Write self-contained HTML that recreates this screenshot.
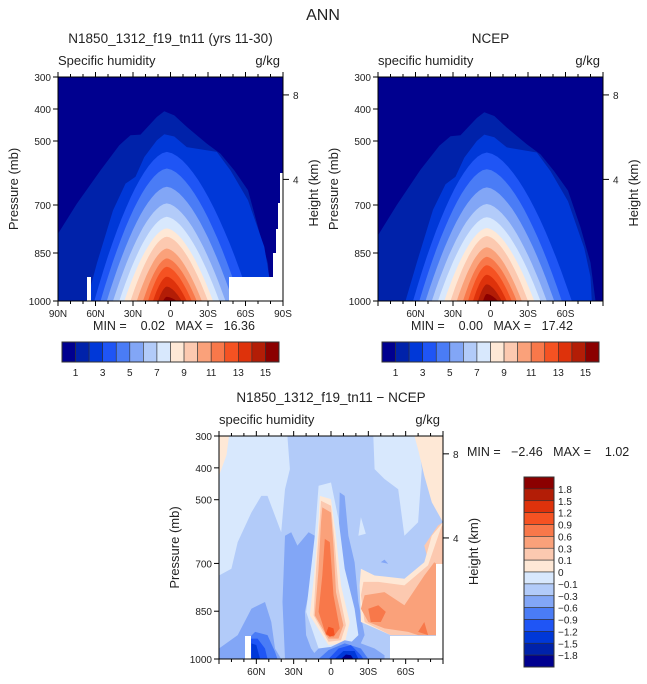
<!DOCTYPE html>
<html><head><meta charset="utf-8"><style>
body{margin:0;background:#fff}
svg{display:block;font-family:"Liberation Sans",sans-serif}
text{white-space:pre}
</style></head><body>
<svg id="root" width="647" height="684" viewBox="0 0 647 684" xmlns="http://www.w3.org/2000/svg">
<text x="323" y="20" font-size="16" text-anchor="middle" fill="#222">ANN</text>
</svg>
<script>
// ---- data ----
const palette = ["#00008f","#0022aa","#0038d8","#1f55f5","#4a7cf6","#82a6f6","#b2cbf9","#d8e8fd","#fee8d6","#fcc9b0","#faa17a","#f8784a","#f55222","#de320b","#b31d06","#8b0000"];
const cbLabels1 = ["1","3","5","7","9","11","13","15"];
const cbLabels3 = ["1.8","1.5","1.2","0.9","0.6","0.3","0.1","0","\u22120.1","\u22120.3","\u22120.6","\u22120.9","\u22121.2","\u22121.5","\u22121.8"];
const pTicks = [300,400,500,700,850,1000];
const latTicks1 = [-90,-60,-30,0,30,60,90];
const latLabels1 = ["90N","60N","30N","0","30S","60S","90S"];
const latTicks2 = [-60,-30,0,30,60];
const latLabels2 = ["60N","30N","0","30S","60S"];
const heightTicks = [8,4];
const heightTickP = [356,620];
// panel 1 contours
const p1Lev1 = [[-90,790],[-75,696],[-56,592],[-41,513],[-32,482],[-24,480],[-11,425],[-5,407],[3,420],[13,456],[29,508],[40,540],[51,592],[62,654],[70,769],[78,883],[80,1000],[-90,1000]];
const p1Lev2 = [[-67,1000],[-59,883],[-46,717],[-36,633],[-28,612],[-21,550],[-11,498],[-5,479],[3,486],[13,519],[37,534],[48,592],[62,685],[75,831],[79,925],[79,1000]];
const p1Peak = [534,586,643,695,737,773,799,836,867,893,924,955,987];
const p1Left = [-61,-56,-51,-46,-41,-37,-32,-27,-22,-18,-14,-10,-6];
const p1Right = [64,56,50,44,39,34,30,25,21,17,13,9,5];
// panel 2 contours
const p2Lev1 = [[-90,795],[-75,700],[-56,590],[-41,515],[-32,485],[-24,482],[-11,428],[-5,410],[3,422],[13,458],[29,510],[40,542],[51,595],[62,655],[72,770],[80,880],[84,1000],[-90,1000]];
const p2Lev2 = [[-68,1000],[-59,880],[-46,715],[-36,635],[-28,612],[-21,552],[-11,500],[-5,480],[3,488],[13,520],[37,536],[48,594],[62,688],[75,835],[80,925],[81,1000]];
const p2Peak = [536,588,645,697,738,772,797,832,862,888,918,948,978];
const p2Left = [-62,-57,-52,-47,-42,-37,-32,-27,-22,-18,-14,-10,-6];
const p2Right = [65,57,51,45,40,35,30,25,21,17,13,9,6];
// panel 3 difference regions: [colorIndex, polygon of [lat,p]]
const diffRegions = [
 [7, [[-90,300],[-35,300],[-33,404],[-37,467],[-40,602],[-51,488],[-56,488],[-64,540],[-75,633],[-80,717],[-90,738]]],
 [7, [[34,300],[70,300],[73,404],[70,571],[59,613],[54,467],[43,435],[35,404]]],
 [8, [[-90,300],[-82,300],[-84,360],[-90,425]]],
 [8, [[67,300],[90,300],[90,571],[81,508],[75,425],[70,342]]],
 [9, [[75,644],[86,581],[90,571],[90,696],[81,738]]],
 [5, [[-37,613],[-32,602],[-27,644],[-18,602],[-13,613],[-14,717],[-21,852],[-20,925],[-16,967],[-10,1000],[-37,1000],[-39,821]]],
 [5, [[7,477],[11,488],[14,613],[19,696],[22,821],[27,925],[22,967],[11,956],[8,821],[6,644]]],
 [5, [[-90,967],[-75,925],[-64,842],[-53,821],[-48,884],[-45,967],[-40,1000],[-90,1000]]],
 [7, [[-10,456],[0,446],[6,561],[11,717],[19,842],[22,925],[11,967],[-10,967],[-20,852],[-13,613]]],
 [8, [[-9,488],[0,498],[4,613],[8,769],[15,884],[11,951],[-2,956],[-17,863],[-13,717],[-10,561]]],
 [9, [[-8,503],[0,519],[3,633],[6,779],[12,894],[8,941],[-2,946],[-14,863],[-12,717],[-9,561]]],
 [10, [[-7,524],[0,540],[2,644],[4,790],[10,894],[6,936],[-2,936],[-13,863],[-10,717],[-8,571]]],
 [11, [[-5,623],[-1,633],[2,800],[7,904],[2,930],[-4,925],[-10,852],[-7,738]]],
 [12, [[-2,899],[2,904],[3,925],[-1,930],[-4,920]]],
 [8, [[24,717],[35,738],[59,748],[75,696],[81,613],[90,571],[90,925],[48,925],[24,884],[23,769]]],
 [9, [[26,758],[38,758],[59,769],[78,706],[89,581],[90,581],[90,925],[48,925],[27,884],[24,800]]],
 [10, [[27,800],[43,790],[59,831],[75,738],[83,696],[86,706],[86,925],[70,925],[62,915],[43,904],[30,884],[24,842]]],
 [11, [[30,842],[38,831],[44,852],[40,884],[32,884]]],
 [11, [[70,915],[75,884],[78,925]]],
 [7, [[22,613],[24,555],[28,607]]],
 [5, [[40,696],[43,688],[46,701]]],
 [4, [[-69,946],[-61,915],[-51,925],[-45,977],[-43,1000],[-69,1000]]],
 [3, [[-65,936],[-59,936],[-53,967],[-51,1000],[-65,1000]]],
 [2, [[-64,951],[-60,956],[-57,1000],[-64,1000]]],
 [5, [[-18,1000],[-10,967],[0,962],[11,941],[24,951],[35,967],[43,988],[43,1000]]],
 [4, [[-10,1000],[-2,972],[11,951],[24,967],[30,1000]]],
 [3, [[-2,1000],[6,967],[16,956],[24,988],[26,1000]]],
 [2, [[3,1000],[10,975],[19,975],[22,1000]]],
 [0, [[8,1000],[12,986],[16,988],[18,1000]]]
];

const NS = "http://www.w3.org/2000/svg";
const root = document.getElementById("root");
function mk(tag, attrs, parent){const e=document.createElementNS(NS,tag);for(const k in attrs)e.setAttribute(k,attrs[k]);(parent||root).appendChild(e);return e;}
function txt(x,y,s,size,anchor,parent){const t=mk("text",{x:x,y:y,"font-size":size,"text-anchor":anchor||"start",fill:"#222"},parent);t.textContent=s;return t;}

function makePanel(cfg){
  const g=mk("g",{});
  
  
  const X=lat=>cfg.x0+(lat+90)*(cfg.w/180);
  const Y=p=>cfg.y0+(p-300)/700*cfg.h;
  const clipId=cfg.name+"-clip";
  const cp=mk("clipPath",{id:clipId},g);mk("rect",{x:cfg.x0,y:cfg.y0,width:cfg.w,height:cfg.h},cp);
  const plot=mk("g",{"clip-path":"url(#"+clipId+")"},g);
  
  
  const bg=mk("rect",{x:cfg.x0,y:cfg.y0,width:cfg.w,height:cfg.h,fill:cfg.bg},plot);
  
  
  return {g,plot,X,Y};
}
function poly(parent,pts,X,Y,color,name){
  const e=mk("polygon",{points:pts.map(q=>X(q[0]).toFixed(1)+","+Y(q[1]).toFixed(1)).join(" "),fill:color},parent);
  
  
}
function mountain(parent,X,Y,peak,left,right,color,name){
  const c=-3,pts=[];
  const wl=c-left,wr=right-c;
  for(let i=0;i<=16;i++){const t=1-i/16;const lat=c-wl*t;pts.push([lat,peak+(1000-peak)*Math.pow(t,1.7)]);}
  for(let i=1;i<=16;i++){const t=i/16;const lat=c+wr*t;pts.push([lat,peak+(1000-peak)*Math.pow(t,1.7)]);}
  poly(parent,pts,X,Y,color,name);
}
function axes(P,cfg,latTicks,latLabels,title,sub){
  const g=P.g,X=P.X,Y=P.Y;
  const fr=mk("rect",{x:cfg.x0,y:cfg.y0,width:cfg.w,height:cfg.h,fill:"none",stroke:"#000","stroke-width":1},g);
  
  
  pTicks.forEach(p=>{
    mk("line",{x1:cfg.x0-5,x2:cfg.x0,y1:Y(p),y2:Y(p),stroke:"#000"},g);
    const t=txt(cfg.x0-7,Y(p)+4,String(p),10,"end",g);
    
    
  });
  for(let l=-90;l<=90;l+=10){
    const major=l%30===0, len=major?5:3;
    mk("line",{x1:X(l),x2:X(l),y1:cfg.y0+cfg.h,y2:cfg.y0+cfg.h+len,stroke:"#000"},g);
    mk("line",{x1:X(l),x2:X(l),y1:cfg.y0,y2:cfg.y0-len,stroke:"#000"},g);
  }
  latTicks.forEach((l,i)=>{
    const t=txt(X(l),cfg.y0+cfg.h+16,latLabels[i],10,"middle",g);
    
    
  });
  heightTicks.forEach((h,i)=>{
    const y=Y(heightTickP[i]);
    mk("line",{x1:cfg.x0+cfg.w,x2:cfg.x0+cfg.w+6,y1:y,y2:y,stroke:"#000"},g);
    const t=txt(cfg.x0+cfg.w+10,y+4,String(h),10,"start",g);
    
    
  });
  const yl=txt(0,0,"Pressure (mb)",13,"middle",g);
  yl.setAttribute("transform","translate("+(cfg.x0-40)+","+(cfg.y0+cfg.h/2)+") rotate(-90)");
  
  
  const hl=txt(0,0,"Height (km)",13,"middle",g);
  hl.setAttribute("transform","translate("+(cfg.x0+cfg.w+35)+","+(cfg.y0+cfg.h/2+4)+") rotate(-90)");
  
  
  const tt=txt(cfg.x0+cfg.w/2,cfg.y0-34,title,13.5,"middle",g);
  
  
  const st=txt(cfg.x0,cfg.y0-12,sub,13,"start",g);
  
  
  const ut=txt(cfg.x0+cfg.w-3,cfg.y0-12,"g/kg",13,"end",g);
  
  
}
function humidityPanel(cfg,lev1,lev2,peak,left,right){
  const P=makePanel(cfg);
  poly(P.plot,lev1,P.X,P.Y,palette[1],"contour-level-1");
  poly(P.plot,lev2,P.X,P.Y,palette[2],"contour-level-2");
  peak.forEach((pk,i)=>mountain(P.plot,P.X,P.Y,pk,left[i],right[i],palette[i+3],"contour-level-"+(i+3)));
  return P;
}
function hColorbar(x0,y0,w,h,name){
  const g=mk("g",{});
  
  
  const bw=w/palette.length;
  palette.forEach((c,i)=>{
    const r=mk("rect",{x:x0+i*bw,y:y0,width:bw,height:h,fill:c,stroke:"#333","stroke-width":0.6},g);
    
    
  });
  mk("rect",{x:x0,y:y0,width:w,height:h,fill:"none",stroke:"#333"},g);
  cbLabels1.forEach((s,i)=>{
    const t=txt(x0+bw*(1+2*i),y0+h+14,s,10,"middle",g);
    
    
  });
}
function whiteRect(parent,x,y,w,h){
  const r=mk("rect",{x:x,y:y,width:w,height:h,fill:"#fff"},parent);
  
  
}

// Panel 1
const c1={name:"model-panel",x0:58,y0:77,w:225,h:224,bg:palette[0]};
const P1=humidityPanel(c1,p1Lev1,p1Lev2,p1Peak,p1Left,p1Right);
whiteRect(P1.plot,87,277,4,24);
whiteRect(P1.plot,229,277,54,24);
whiteRect(P1.plot,273,253,10,24);
whiteRect(P1.plot,276,229,7,24);
whiteRect(P1.plot,278,203,5,26);
whiteRect(P1.plot,280,173,3,30);
axes(P1,c1,latTicks1,latLabels1,"N1850_1312_f19_tn11 (yrs 11-30)","Specific humidity");
const m1=txt(174,330,"MIN =    0.02   MAX =   16.36",12.5,"middle");


hColorbar(62,342,217,20,"colorbar-model");

// Panel 2
const c2={name:"ncep-panel",x0:378,y0:77,w:225,h:224,bg:palette[0]};
const P2=humidityPanel(c2,p2Lev1,p2Lev2,p2Peak,p2Left,p2Right);
axes(P2,c2,latTicks2,latLabels2,"NCEP","specific humidity");
const m2=txt(492,330,"MIN =    0.00   MAX =   17.42",12.5,"middle");


hColorbar(382,342,217,20,"colorbar-ncep");

// Panel 3
const c3={name:"difference-panel",x0:219,y0:436,w:224,h:223,bg:palette[6]};
const P3=makePanel(c3);
diffRegions.forEach((r,i)=>poly(P3.plot,r[1],P3.X,P3.Y,palette[r[0]],"diff-region-"+i));
whiteRect(P3.plot,245,636,6,23);
whiteRect(P3.plot,390,636,53,23);
whiteRect(P3.plot,436,564,7,72);
axes(P3,c3,latTicks2,latLabels2,"N1850_1312_f19_tn11 \u2212 NCEP","specific humidity");
const m3=txt(467,456,"MIN =   \u22122.46   MAX =    1.02",12.5,"start");


// vertical colorbar
const vcb=mk("g",{});


const vx=524,vy=477,vw=30,vh=190,bh=vh/palette.length;
palette.slice().reverse().forEach((c,i)=>{
  const r=mk("rect",{x:vx,y:vy+i*bh,width:vw,height:bh,fill:c,stroke:"#333","stroke-width":0.6},vcb);
  
  
});
mk("rect",{x:vx,y:vy,width:vw,height:vh,fill:"none",stroke:"#333"},vcb);
cbLabels3.forEach((s,i)=>{
  const t=txt(vx+vw+4,vy+bh*(i+1)+4,s,10,"start",vcb);
  
  
});
</script>
</body></html>
